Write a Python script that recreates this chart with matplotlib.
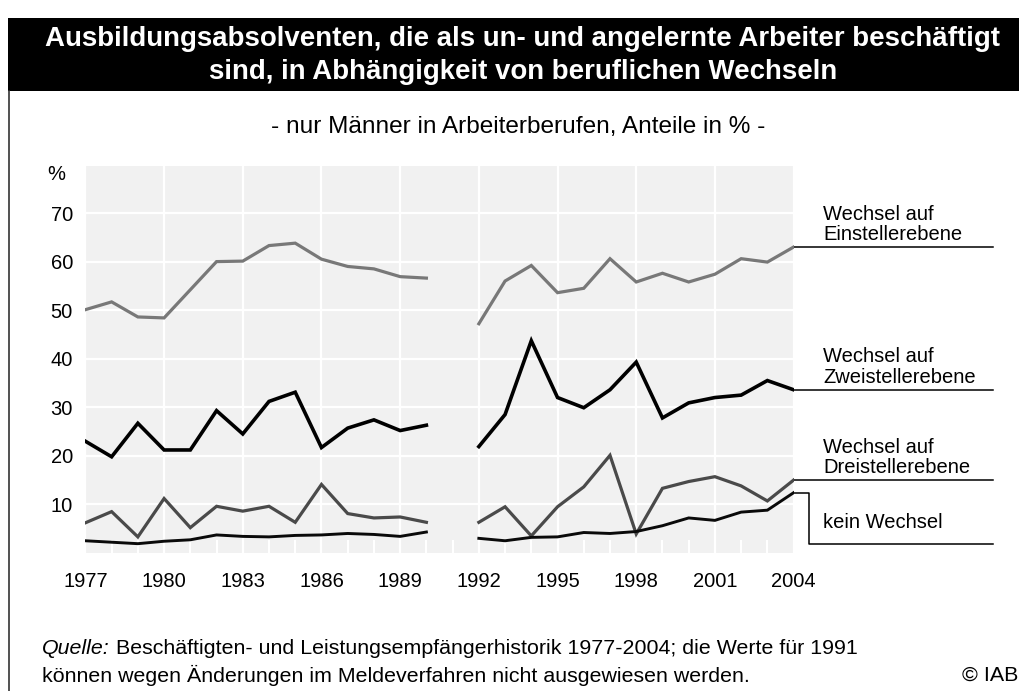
import numpy as np
import matplotlib
matplotlib.use("Agg")
import matplotlib.pyplot as plt
from matplotlib.patches import Rectangle
from matplotlib.lines import Line2D
from matplotlib import font_manager

# ---------------- data ----------------
years = list(range(1977, 2005))
nan = np.nan
einsteller = [50.1, 51.7, 48.6, 48.4, 54.2, 60.0, 60.1, 63.3, 63.8, 60.5, 59.0, 58.5, 56.9, 56.6,
              nan, 47.2, 56.0, 59.2, 53.6, 54.5, 60.6, 55.8, 57.6, 55.8, 57.4, 60.6, 59.9, 63.0]
zweisteller = [23.0, 19.8, 26.7, 21.2, 21.2, 29.3, 24.5, 31.2, 33.1, 21.7, 25.7, 27.4, 25.2, 26.3,
               nan, 21.9, 28.5, 43.7, 32.0, 29.9, 33.6, 39.3, 27.8, 30.9, 32.0, 32.5, 35.5, 33.6]
dreisteller = [6.2, 8.5, 3.3, 11.2, 5.2, 9.6, 8.6, 9.6, 6.3, 14.1, 8.1, 7.2, 7.4, 6.3,
               nan, 6.3, 9.5, 3.5, 9.5, 13.6, 20.1, 3.9, 13.3, 14.7, 15.7, 13.8, 10.7, 15.0]
kein_wechsel = [2.5, 2.2, 1.9, 2.4, 2.7, 3.7, 3.4, 3.3, 3.6, 3.7, 4.0, 3.8, 3.4, 4.3,
                nan, 3.0, 2.5, 3.2, 3.3, 4.2, 4.0, 4.4, 5.6, 7.2, 6.7, 8.4, 8.8, 12.4]

series_names = ["Wechsel auf\nEinstellerebene", "Wechsel auf\nZweistellerebene",
                "Wechsel auf\nDreistellerebene", "kein Wechsel"]
x_tick_years = list(range(1977, 2005, 3))
y_ticks = [10, 20, 30, 40, 50, 60, 70]

title_lines = ["Ausbildungsabsolventen, die als un- und angelernte Arbeiter beschäftigt",
               "sind, in Abhängigkeit von beruflichen Wechseln"]
subtitle = "- nur Männer in Arbeiterberufen, Anteile in % -"
source_italic = "Quelle:"
source_line1 = " Beschäftigten- und Leistungsempfängerhistorik 1977-2004; die Werte für 1991"
source_line2 = "können wegen Änderungen im Meldeverfahren nicht ausgewiesen werden."
copyright_text = "© IAB"

# ---------------- fonts ----------------
plt.rcParams["font.family"] = ["Liberation Sans", "DejaVu Sans"]
installed = {f.name for f in font_manager.fontManager.ttflist}
narrow = ["Liberation Sans Narrow", "Liberation Sans"] if "Liberation Sans Narrow" in installed \
    else ["Liberation Sans", "DejaVu Sans"]

# ---------------- figure ----------------
W, H = 1020, 691
fig = plt.figure(figsize=(W / 100, H / 100), dpi=100)
fig.patch.set_facecolor("white")


def fx(px):
    return px / W


def fy(py):
    return 1 - py / H


renderer = fig.canvas.get_renderer()


def fit_text(x, y, s, target_w, **kw):
    t = fig.text(x, y, s, fontsize=20, **kw)
    w = t.get_window_extent(renderer).width
    t.set_fontsize(20 * target_w / w)
    return t


# header band and left border
band_top, band_bot = 18, 91
fig.patches.append(Rectangle((fx(8), fy(band_bot)), 1 - fx(8), (band_bot - band_top) / H,
                             transform=fig.transFigure, facecolor="black",
                             edgecolor="none", zorder=0))
fig.lines.append(Line2D([fx(9), fx(9)], [fy(band_bot), fy(691)], transform=fig.transFigure,
                        color="#333333", lw=1.2))

t1 = fit_text(fx(523), fy(39), title_lines[0], 952, ha="center", va="center",
              color="white", fontweight="bold", family=narrow)
fig.text(fx(523), fy(72), title_lines[1], ha="center", va="center", color="white",
         fontweight="bold", fontsize=t1.get_fontsize(), family=narrow)
fit_text(fx(518), fy(127), subtitle, 493, ha="center", va="center", color="black",
         family=narrow)

# ---------------- axes ----------------
x0, x1 = 85.4, 793.6
y0, ppu = 552.9, 4.855
ymax = 79.6
ax = fig.add_axes([fx(x0), fy(y0), (x1 - x0) / W, ymax * ppu / H])
ax.set_facecolor("#f1f1f1")
for s in ax.spines.values():
    s.set_visible(False)
ax.set_xlim(1977, 2004)
ax.set_ylim(0, ymax)
ax.set_xticks(x_tick_years)
ax.set_xticks(years, minor=True)
ax.set_yticks(y_ticks)
ax.grid(True, which="major", color="white", lw=1.6)
ax.set_axisbelow(True)
ax.tick_params(axis="both", which="major", length=0, labelsize=14.5)
ax.tick_params(axis="x", which="major", pad=14)
ax.tick_params(axis="y", which="major", pad=9)
ax.tick_params(axis="x", which="minor", direction="in", length=9.5, width=1.5, color="white")
ax.tick_params(axis="y", which="minor", length=0)

styles = [("#787878", 2.3), ("#000000", 2.6), ("#4a4a4a", 2.3), ("#0a0a0a", 2.1)]
all_series = [einsteller, zweisteller, dreisteller, kein_wechsel]
for vals, (c, lw) in zip(all_series, styles):
    ax.plot(years, vals, color=c, lw=lw, solid_joinstyle="miter", zorder=3)

# leader lines and labels
px_per_year = (x1 - x0) / 27
x_end = 1977 + (993 - x0) / px_per_year
x_lab = 1977 + (823 - x0) / px_per_year
x_knee = 1977 + (809 - x0) / px_per_year
for i, (vals, name) in enumerate(zip(all_series, series_names)):
    last = vals[-1]
    if i < 3:
        ax.plot([years[-1], x_end], [last, last], color="black", lw=1.1, clip_on=False)
        ax.text(x_lab, last + 0.6, name, ha="left", va="bottom", fontsize=14.5,
                linespacing=1.1, clip_on=False)
    else:
        low = 1.8
        ax.plot([years[-1], x_knee, x_knee, x_end], [last, last, low, low],
                color="black", lw=1.1, clip_on=False)
        ax.text(x_lab, 6.2, name, ha="left", va="center", fontsize=14.5, clip_on=False)

fig.text(fx(56), fy(174), "%", ha="center", va="center", fontsize=14.5)

# ---------------- footer ----------------
fy1, fy2 = 649, 675
ti = fig.text(fx(42), fy(fy1), source_italic, fontsize=20, style="italic",
              ha="left", va="center", family=narrow)
tr = fig.text(fx(42), fy(fy1), source_line1, fontsize=20, ha="left", va="center",
              family=narrow)
w_total = ti.get_window_extent(renderer).width + tr.get_window_extent(renderer).width
fs = 20 * 815 / w_total
ti.set_fontsize(fs)
tr.set_fontsize(fs)
wi = ti.get_window_extent(renderer).width
tr.set_x(fx(42 + wi))
fig.text(fx(42), fy(fy2), source_line2, fontsize=fs, ha="left", va="center", family=narrow)
fig.text(fx(1018), fy(fy2), copyright_text, fontsize=fs, ha="right", va="center",
         family=narrow)

fig.savefig("out.png", dpi=100)
